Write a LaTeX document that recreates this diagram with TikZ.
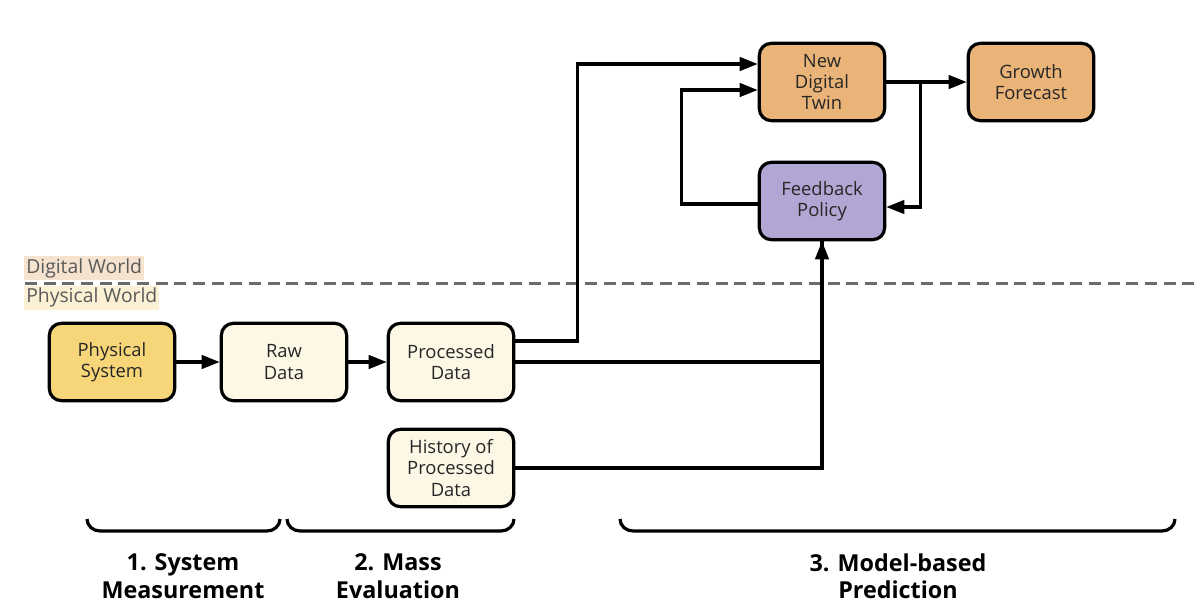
\documentclass[tikz,border=0pt]{standalone}
\usepackage{fontspec}
\setmainfont{Open Sans}
\usepackage{tikz}
\usetikzlibrary{arrows.meta, positioning, calc}
\definecolor{physyellow}{RGB}{247,214,122}
\definecolor{datacream}{RGB}{253,248,230}
\definecolor{twinorange}{RGB}{234,180,120}
\definecolor{policypurple}{RGB}{178,167,212}
\definecolor{digitalbg}{RGB}{245,227,208}
\definecolor{physicalbg}{RGB}{252,241,212}
\definecolor{worldgray}{RGB}{90,90,90}
\tikzset{
  box/.style={rectangle, draw=black, line width=2.4pt, rounded corners=9pt, minimum width=94pt, minimum height=58pt, align=center, text=black!85, font=\fontsize{13.8}{16}\selectfont},
  arrow/.style={-{Triangle[length=13.5pt,width=10pt]}, line width=2.4pt},
  line/.style={line width=2.4pt},
  stage/.style={align=center, font=\fontsize{17.5}{20.5}\selectfont\bfseries},
  worldlabel/.style={inner sep=1.5pt, text=worldgray, font=\fontsize{14.5}{16}\selectfont}
}

\begin{document}
\begin{tikzpicture}[x=0.75pt, y=-0.75pt]
  \useasboundingbox (0,0) rectangle (1200,615);

  % World border
  \draw[worldgray!90, line width=2.25pt, dash pattern=on 9pt off 5pt] (25,283) -- (1200,283);
  \node[worldlabel, fill=digitalbg, anchor=south west] (dw) at (24,280) {Digital World};
  \node[worldlabel, fill=physicalbg, anchor=north west] (pw) at (24,286) {Physical World};

  % Physical side
  \node[box, fill=physyellow] (ps) at (112,362) {Physical\\System};
  \node[box, fill=datacream] (rd) at (284,362) {Raw\\Data};
  \node[box, fill=datacream] (pd) at (451,362) {Processed\\Data};
  \node[box, fill=datacream] (hpd) at (451,468) {History of\\Processed\\Data};

  % Digital side
  \node[box, fill=twinorange] (ndt) at (822,82) {New\\Digital\\Twin};
  \node[box, fill=twinorange] (gf) at (1031,82) {Growth\\Forecast};
  \node[box, fill=policypurple] (fp) at (822,201) {Feedback\\Policy};

  % Connectors
  \draw[arrow] (ps) -- (rd);
  \draw[arrow] (rd) -- (pd);
  \draw[arrow] ($(pd.east)+(0,-21)$) -| ($(ndt.west)+(-180,-18)$) -- ($(ndt.west)+(0,-18)$);
  \draw[line] (pd.east) -| (fp.south);
  \draw[arrow] (hpd.east) -| (fp.south);
  \draw[arrow] (ndt) -- (gf);
  \draw[arrow] ($(ndt.east)+(34,0)$) |- ($(fp.east)+(0,6)$);
  \draw[arrow] ($(fp.west)+(0,3)$) -| ($(ndt.west)+(-76,8)$) -- ($(ndt.west)+(0,8)$);

  % Stage brackets
  \draw[line] (87,519) to[out=-90,in=180] (100,531) -- (267,531) to[out=0,in=-90] (280,519);
  \draw[line] (287,519) to[out=-90,in=180] (300,531) -- (501,531) to[out=0,in=-90] (514,519);
  \draw[line] (620,519) to[out=-90,in=180] (633,531) -- (1162,531) to[out=0,in=-90] (1175,519);
  \node[stage] (s1) at (183,576) {1. System\\Measurement};
  \node[stage] (s2) at (398,576) {2. Mass\\Evaluation};
  \node[stage] (s3) at (898,576) {3. Model-based\\Prediction};
\end{tikzpicture}
\end{document}
